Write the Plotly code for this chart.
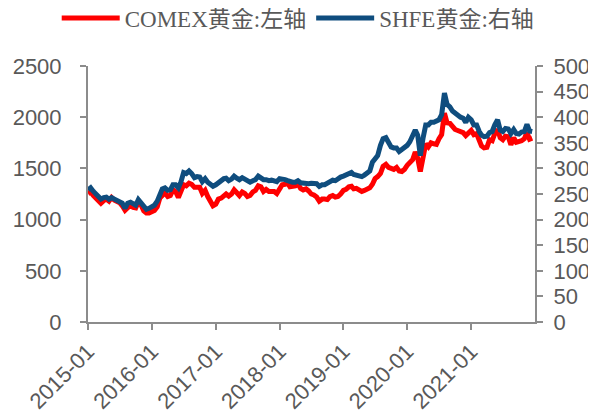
import plotly.graph_objects as go

# semi-monthly observation dates (1st and 16th of each month), 2015-01 .. 2021-12
dates = [f"{y}-{m:02d}-{d:02d}" for y in range(2015, 2022) for m in range(1, 13) for d in (1, 16)]

comex = [
    # 2015
    1255, 1270, 1235, 1210, 1200, 1160, 1185, 1200, 1180, 1215, 1190, 1180,
    1165, 1135, 1090, 1115, 1135, 1120, 1115, 1175, 1140, 1085, 1065, 1065,
    # 2016
    1075, 1090, 1125, 1210, 1235, 1260, 1225, 1235, 1290, 1275, 1215, 1290,
    1340, 1330, 1355, 1345, 1315, 1315, 1315, 1255, 1285, 1225, 1175, 1135,
    # 2017
    1150, 1200, 1210, 1240, 1250, 1230, 1250, 1290, 1255, 1235, 1270, 1255,
    1225, 1235, 1270, 1285, 1330, 1320, 1275, 1295, 1275, 1280, 1275, 1255,
    # 2018
    1310, 1340, 1345, 1355, 1320, 1320, 1330, 1350, 1305, 1290, 1300, 1280,
    1250, 1240, 1220, 1180, 1200, 1200, 1195, 1225, 1235, 1220, 1225, 1250,
    # 2019
    1285, 1295, 1320, 1325, 1300, 1305, 1295, 1275, 1285, 1295, 1310, 1345,
    1400, 1420, 1450, 1520, 1540, 1510, 1495, 1490, 1510, 1475, 1470, 1490,
    # 2020
    1530, 1560, 1585, 1660, 1600, 1470, 1640, 1740, 1710, 1750, 1740, 1735,
    1790, 1830, 2040, 1945, 1940, 1900, 1880, 1870, 1860, 1850, 1820, 1850,
    # 2021
    1870, 1830, 1840, 1775, 1720, 1700, 1705, 1780, 1770, 1840, 1880, 1800,
    1780, 1815, 1810, 1730, 1800, 1755, 1760, 1770, 1790, 1850, 1785, 1795,
]

shfe = [
    # 2015
    258, 262, 255, 250, 246, 240, 243, 244, 240, 243, 240, 238,
    236, 232, 222, 232, 234, 231, 228, 239, 233, 226, 220, 222,
    # 2016
    224, 228, 236, 252, 260, 262, 257, 258, 268, 268, 262, 274,
    292, 290, 295, 290, 282, 284, 283, 274, 280, 273, 268, 265,
    # 2017
    268, 273, 276, 280, 281, 276, 279, 285, 281, 278, 282, 279,
    275, 273, 276, 278, 285, 282, 278, 278, 276, 277, 276, 274,
    # 2018
    280, 280, 278, 276, 274, 273, 273, 276, 272, 271, 271, 270,
    271, 270, 270, 265, 268, 268, 271, 276, 277, 276, 280, 283,
    # 2019
    285, 287, 291, 292, 288, 287, 286, 284, 287, 290, 295, 312,
    318, 325, 345, 358, 360, 350, 342, 340, 340, 333, 336, 340,
    # 2020
    345, 352, 362, 375, 365, 325, 360, 385, 385, 390, 390, 392,
    395, 405, 447, 425, 420, 412, 408, 402, 400, 398, 390, 400,
    # 2021
    395, 385, 385, 372, 365, 362, 363, 370, 372, 385, 395, 375,
    372, 378, 377, 368, 376, 368, 367, 371, 372, 386, 373, 372,
]

left_ticks = [0, 500, 1000, 1500, 2000, 2500]
right_ticks = [0, 50, 100, 150, 200, 250, 300, 350, 400, 450, 500]
x_tickvals = ["2015-01-01", "2016-01-01", "2017-01-01", "2018-01-01",
              "2019-01-01", "2020-01-01", "2021-01-01"]
x_ticktext = ["2015-01", "2016-01", "2017-01", "2018-01", "2019-01", "2020-01", "2021-01"]

AXIS = "#8c8c8c"
TXT = "#595959"

fig = go.Figure()
fig.add_trace(go.Scatter(x=dates, y=comex, name="COMEX黄金:左轴", mode="lines",
                         line=dict(color="#ff0000", width=5), yaxis="y"))
fig.add_trace(go.Scatter(x=dates, y=shfe, name="SHFE黄金:右轴", mode="lines",
                         line=dict(color="#0f4d7e", width=5), yaxis="y2"))

# the page body adds an 8px offset, so the figure is 8px smaller than the window
fig.update_layout(
    width=588, height=410,
    margin=dict(l=80, r=61, t=58, b=96, autoexpand=False),
    paper_bgcolor="white", plot_bgcolor="white",
    font=dict(family="Liberation Sans, Arial, sans-serif", size=22, color=TXT),
    showlegend=True,
    legend=dict(orientation="h", xref="paper", yref="paper",
                x=-0.07, xanchor="left", y=1.1875, yanchor="middle",
                font=dict(family="Liberation Serif, Noto Sans CJK SC", size=23, color=TXT),
                itemwidth=58, bgcolor="rgba(0,0,0,0)"),
    xaxis=dict(type="date", range=["2015-01-01", "2022-01-01"],
               tickvals=x_tickvals, ticktext=x_ticktext, tickangle=-45,
               showline=True, linecolor=AXIS, linewidth=2,
               ticks="outside", ticklen=6, tickwidth=2, tickcolor=AXIS,
               showgrid=False, zeroline=False, automargin=False),
    yaxis=dict(range=[0, 2500], tickvals=left_ticks,
               showline=True, linecolor=AXIS, linewidth=2,
               ticks="outside", ticklen=6, tickwidth=2, tickcolor=AXIS,
               ticklabelstandoff=14,
               showgrid=False, zeroline=False, automargin=False),
    yaxis2=dict(range=[0, 500], tickvals=right_ticks, overlaying="y", side="right",
                showline=True, linecolor=AXIS, linewidth=2,
                ticks="outside", ticklen=6, tickwidth=2, tickcolor=AXIS,
                ticklabelstandoff=6,
                showgrid=False, zeroline=False, automargin=False),
)

fig.write_html("out.html")
